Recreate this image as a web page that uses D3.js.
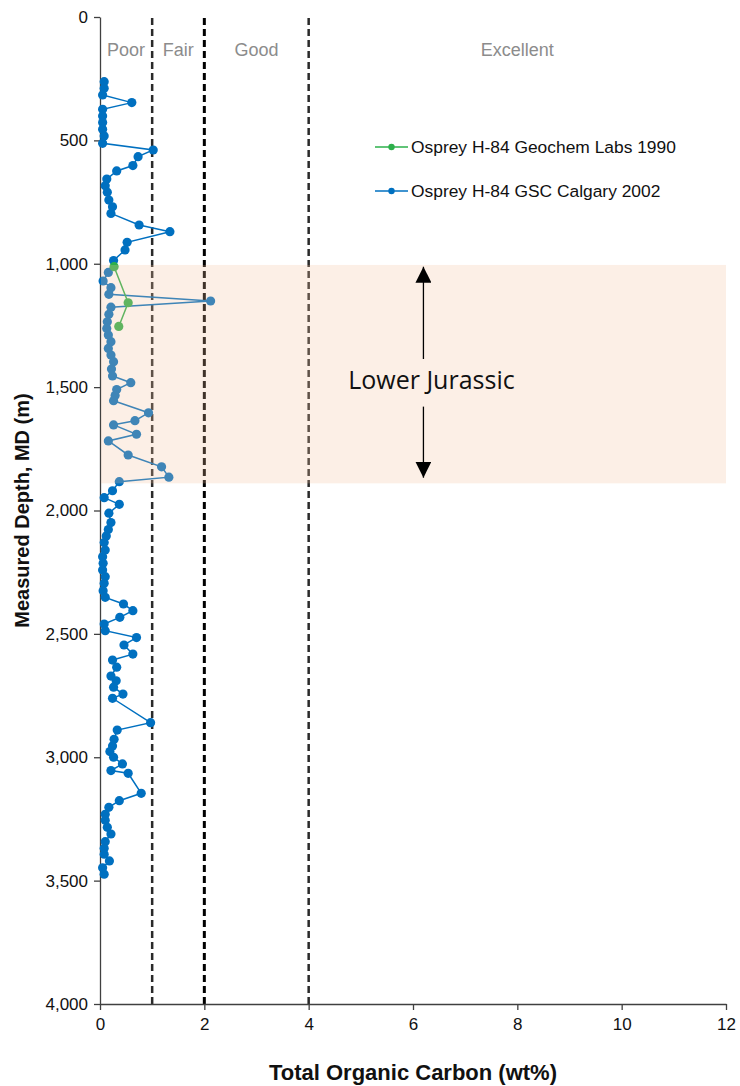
<!DOCTYPE html>
<html><head><meta charset="utf-8">
<script src="https://cdn.jsdelivr.net/npm/d3@7"></script>
<style>body{margin:0;background:#fff}svg{display:block}</style>
</head><body>
<svg id="c" width="740" height="1086"></svg>
<script>
// Osprey H-84 GSC Calgary 2002 : [TOC wt%, depth m]
const gscToc = [0.08,0.08,0.05,0.61,0.05,0.05,0.05,0.05,0.08,0.05,1.02,0.73,0.63,0.32,0.13,0.10,0.14,0.17,0.24,0.21,0.75,1.34,0.52,0.48,0.26,0.16,0.06,0.21,0.17,2.12,0.21,0.17,0.14,0.13,0.16,0.21,0.16,0.21,0.26,0.22,0.24,0.59,0.32,0.29,0.26,0.93,0.67,0.26,0.70,0.16,0.54,1.18,1.32,0.37,0.24,0.08,0.37,0.17,0.21,0.16,0.12,0.08,0.10,0.05,0.06,0.05,0.10,0.08,0.06,0.10,0.45,0.63,0.38,0.08,0.10,0.70,0.46,0.63,0.24,0.32,0.21,0.31,0.26,0.44,0.24,0.97,0.33,0.27,0.24,0.19,0.26,0.43,0.21,0.54,0.79,0.37,0.17,0.10,0.10,0.14,0.21,0.10,0.08,0.08,0.18,0.05,0.08];
const gscDepth = [262,289,316,347,374,401,428,455,482,512,539,566,602,624,657,684,710,742,769,796,843,870,913,944,987,1035,1070,1097,1124,1151,1176,1205,1235,1262,1289,1316,1343,1370,1397,1427,1455,1482,1510,1534,1555,1604,1636,1653,1691,1718,1775,1823,1865,1883,1920,1948,1975,2011,2049,2077,2103,2130,2160,2187,2214,2241,2268,2295,2325,2352,2379,2406,2433,2460,2487,2515,2545,2582,2606,2635,2671,2690,2716,2744,2761,2860,2890,2927,2954,2977,3000,3027,3054,3065,3146,3176,3203,3231,3255,3284,3311,3342,3369,3393,3420,3448,3474];
// Osprey H-84 Geochem Labs 1990
const geoToc = [0.27,0.54,0.36];
const geoDepth = [1012,1158,1254];

const seriesNames = ["Osprey H-84 Geochem Labs 1990","Osprey H-84 GSC Calgary 2002"];
const zoneLabels = ["Poor","Fair","Good","Excellent"];
const zoneCenters = [0.5,1.5,3,8];
const cutoffs = [1,2,4];
const xTicks = [0,2,4,6,8,10,12];
const yTicks = [0,500,1000,1500,2000,2500,3000,3500,4000];
const bandDepths = [1005,1890];
const bandLabel = "Lower Jurassic";
const arrowToc = 6.2;
const arrowDepths = [1012,1386,1579,1867];

const svg = d3.select("#c");
const x = d3.scaleLinear().domain([0,12]).range([100,726]);
const y = d3.scaleLinear().domain([0,4000]).range([17,1004]);
const FONT = "'Liberation Sans', Arial, sans-serif";
const BLUE = "#0070C0", GREEN = "#2DB04B";

// cutoff dashed lines
svg.append("g").selectAll("line").data(cutoffs).join("line")
  .attr("x1", d=>x(d)).attr("x2", d=>x(d))
  .attr("y1", y(0)+1).attr("y2", y(4000))
  .attr("stroke", d=> d===2 ? "#000" : "#2a2a2a")
  .attr("stroke-width", d=> d===2 ? 3 : 2.5)
  .attr("stroke-dasharray", "7,4");

// zone labels
svg.append("g").selectAll("text").data(zoneLabels).join("text")
  .attr("x", (d,i)=>x(zoneCenters[i])).attr("y", 56)
  .attr("text-anchor","middle")
  .attr("font-family", FONT).attr("font-size", 18).attr("fill", "#8c8c8c")
  .text(d=>d);

// axes
const yAxis = d3.axisLeft(y).tickValues(yTicks).tickFormat(d3.format(",")).tickSizeInner(6).tickSizeOuter(0).tickPadding(6);
const gy = svg.append("g").attr("transform","translate(100,0)").call(yAxis);
const xAxis = d3.axisBottom(x).tickValues(xTicks).tickSizeInner(6).tickSizeOuter(0).tickPadding(8);
const gx = svg.append("g").attr("transform","translate(0,1004)").call(xAxis);
[gy,gx].forEach(g=>{
  g.select(".domain").attr("stroke","#404040").attr("stroke-width",1.3);
  g.selectAll(".tick line").attr("stroke","#404040").attr("stroke-width",1.3);
  g.selectAll(".tick text").attr("font-family",FONT).attr("font-size",17).attr("fill","#111");
});

// series
const line = d3.line().x(d=>x(d[0])).y(d=>y(d[1]));
const gscPts = gscToc.map((v,i)=>[v,gscDepth[i]]);
const geoPts = geoToc.map((v,i)=>[v,geoDepth[i]]);
function drawSeries(pts,color){
  const g = svg.append("g");
  g.append("path").datum(pts).attr("d",line).attr("fill","none").attr("stroke",color).attr("stroke-width",1.5);
  g.selectAll("circle").data(pts).join("circle")
    .attr("cx",d=>x(d[0])).attr("cy",d=>y(d[1])).attr("r",4.6).attr("fill",color);
}
drawSeries(gscPts,BLUE);
drawSeries(geoPts,GREEN);

// Lower Jurassic band (semi-transparent overlay)
svg.append("rect")
  .attr("x", x(0)+1).attr("width", x(12)-x(0)-1)
  .attr("y", y(bandDepths[0])).attr("height", y(bandDepths[1])-y(bandDepths[0]))
  .attr("fill", "#F2C3A0").attr("fill-opacity", 0.26);

// arrows
const defs = svg.append("defs");
defs.append("marker").attr("id","ah").attr("viewBox","0 0 10 10").attr("refX",10).attr("refY",5)
  .attr("markerWidth",16).attr("markerHeight",16).attr("markerUnits","userSpaceOnUse").attr("orient","auto")
  .append("path").attr("d","M0,0 L10,5 L0,10 Z").attr("fill","#000");
svg.append("line").attr("x1",x(arrowToc)).attr("x2",x(arrowToc))
  .attr("y1",y(arrowDepths[1])).attr("y2",y(arrowDepths[0]))
  .attr("stroke","#000").attr("stroke-width",1.3).attr("marker-end","url(#ah)");
svg.append("line").attr("x1",x(arrowToc)).attr("x2",x(arrowToc))
  .attr("y1",y(arrowDepths[2])).attr("y2",y(arrowDepths[3]))
  .attr("stroke","#000").attr("stroke-width",1.3).attr("marker-end","url(#ah)");
svg.append("text").attr("x", x(arrowToc)+8).attr("y", 389)
  .attr("text-anchor","middle").attr("font-family","'Open Sans', sans-serif").attr("font-size",25).attr("fill","#111")
  .text(bandLabel);

// legend
const legColors = [GREEN, BLUE];
const leg = svg.append("g").selectAll("g").data(seriesNames).join("g")
  .attr("transform",(d,i)=>`translate(375,${147+i*44})`);
leg.append("line").attr("x1",0).attr("x2",33).attr("stroke",(d,i)=>legColors[i]).attr("stroke-width",1.5);
leg.append("circle").attr("cx",16.5).attr("r",3.2).attr("fill",(d,i)=>legColors[i]);
leg.append("text").attr("x",36).attr("y",6).attr("font-family",FONT).attr("font-size",17.4).attr("fill","#111").text(d=>d);

// axis titles
svg.append("text").attr("x", (x(0)+x(12))/2).attr("y", 1080).attr("text-anchor","middle")
  .attr("font-family",FONT).attr("font-weight","bold").attr("font-size",22).attr("fill","#111")
  .text("Total Organic Carbon (wt%)");
svg.append("text").attr("transform",`translate(29,${(y(0)+y(4000))/2}) rotate(-90)`).attr("text-anchor","middle")
  .attr("font-family",FONT).attr("font-weight","bold").attr("font-size",20).attr("fill","#111")
  .text("Measured Depth, MD (m)");
</script>
</body></html>
